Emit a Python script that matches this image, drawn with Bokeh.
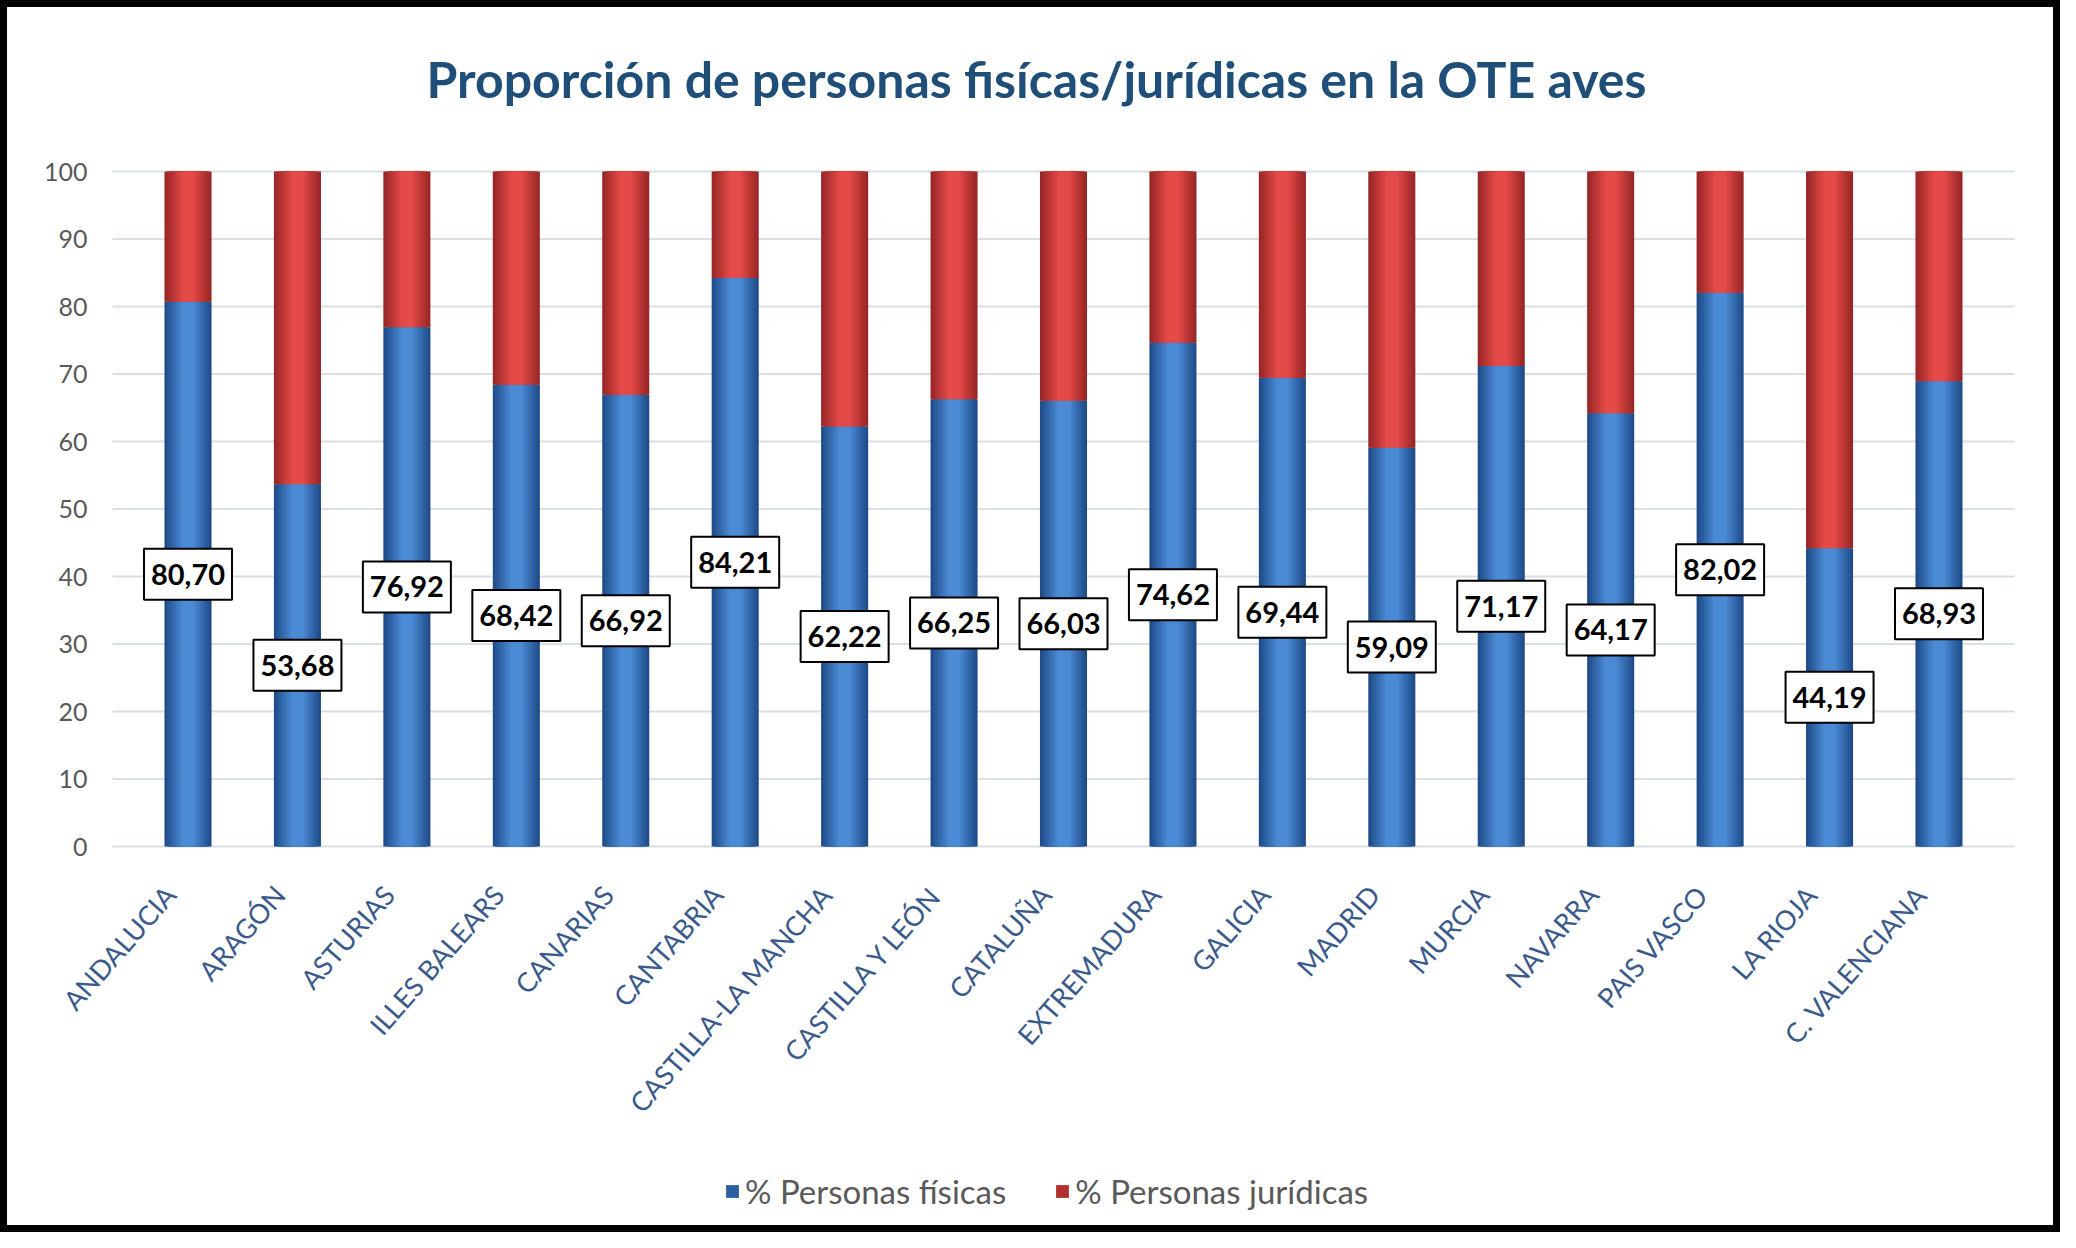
from bokeh.plotting import figure
from bokeh.models import (ColumnDataSource, Range1d, Legend, LegendItem, Label)
from bokeh.core.properties import value
from bokeh.embed import file_html
from bokeh.resources import INLINE

# ---------------- data ----------------
regions = ["ANDALUCIA", "ARAGÓN", "ASTURIAS", "ILLES BALEARS", "CANARIAS", "CANTABRIA",
           "CASTILLA-LA MANCHA", "CASTILLA Y LEÓN", "CATALUÑA", "EXTREMADURA", "GALICIA",
           "MADRID", "MURCIA", "NAVARRA", "PAIS VASCO", "LA RIOJA", "C. VALENCIANA"]
pct_fisicas = [80.70, 53.68, 76.92, 68.42, 66.92, 84.21, 62.22, 66.25, 66.03, 74.62,
               69.44, 59.09, 71.17, 64.17, 82.02, 44.19, 68.93]
pct_juridicas = [19.30, 46.32, 23.08, 31.58, 33.08, 15.79, 37.78, 33.75, 33.97, 25.38,
                 30.56, 40.91, 28.83, 35.83, 17.98, 55.81, 31.07]
y_ticks = [0, 10, 20, 30, 40, 50, 60, 70, 80, 90, 100]
title_text = "Proporción de personas fisícas/jurídicas en la OTE aves"
legend_labels = ["% Personas físicas", "% Personas jurídicas"]

# ---------------- layout (pixels) ----------------
W, H = 2060, 1232
FONT = "Lato"
MB_L, MB_R, MB_T, MB_B = 20, 20, 10, 20
GRID_L, GRID_R = 105, 2007     # canvas columns where the grid lines start / end
Y100_PX, Y0_PX = 164, 839      # canvas rows of the 100 and 0 grid lines
n = len(regions)
PAD = 0.69                     # grid extent beyond first / last category centre
x_px = (GRID_R - GRID_L) / (n - 1 + 2 * PAD)
x_start = -PAD - (GRID_L - MB_L) / x_px
x_end = (n - 1) + PAD + ((W - MB_R) - GRID_R) / x_px
y_px = (Y0_PX - Y100_PX) / 100.0
y_top = 100 + (Y100_PX - MB_T) / y_px
y_bot = -((H - MB_B) - Y0_PX) / y_px

pos = list(range(n))
src = ColumnDataSource(dict(
    x=pos,
    cat=regions,
    f=pct_fisicas,
    top_j=[a + b for a, b in zip(pct_fisicas, pct_juridicas)],
    mid=[a / 2 for a in pct_fisicas],
    zero=[0] * n,
    lbl=[f"{v:.2f}".replace(".", ",") for v in pct_fisicas],
))
grid_src = ColumnDataSource(dict(
    y=y_ticks,
    x0=[-PAD] * len(y_ticks),
    x1=[(n - 1) + PAD] * len(y_ticks),
    t=[str(v) for v in y_ticks],
))

p = figure(width=W, height=H, output_backend="svg", toolbar_location=None,
           x_range=Range1d(x_start, x_end), y_range=Range1d(y_bot, y_top),
           min_border_left=MB_L, min_border_right=MB_R, min_border_top=MB_T,
           min_border_bottom=MB_B)
p.styles = {"border": "7px solid black"}
p.outline_line_color = None
p.background_fill_color = "white"
p.border_fill_color = "white"
p.xaxis.visible = False
p.yaxis.visible = False
p.xgrid.grid_line_color = None
p.ygrid.grid_line_color = None

# horizontal grid lines and value-axis labels
p.segment(x0="x0", x1="x1", y0="y", y1="y", source=grid_src,
          line_color="#dadfe6", line_width=2)
p.text(x="x0", y="y", text="t", source=grid_src, x_offset=-(GRID_L - 80),
       text_align="right", text_baseline="middle", text_font=value(FONT),
       text_font_size="25px", text_color="#595959")


def mix(c1, c2, t):
    a = [int(c1[i:i + 2], 16) for i in (1, 3, 5)]
    b = [int(c2[i:i + 2], 16) for i in (1, 3, 5)]
    return "#" + "".join(f"{round(x + (y - x) * t):02x}" for x, y in zip(a, b))


BW = 0.43
n_layers = 8
blue_edge, blue_mid = "#204d8a", "#4b8bd5"
red_edge, red_mid = "#9a2727", "#e44a47"
blue_rs, red_rs = [], []
for k in range(n_layers):
    t = k / (n_layers - 1)
    wf = 1.0 - k * 0.105
    rb = p.vbar(x="x", top="f", bottom=0, width=BW * wf, source=src,
                fill_color=mix(blue_edge, blue_mid, t), line_color=None)
    rr = p.vbar(x="x", top="top_j", bottom="f", width=BW * wf, source=src,
                fill_color=mix(red_edge, red_mid, t), line_color=None)
    blue_rs.append(rb)
    red_rs.append(rr)

# data labels
p.rect(x="x", y="mid", width=88, height=51, width_units="screen", height_units="screen",
       source=src, fill_color="white", line_color="black", line_width=2)
p.text(x="x", y="mid", text="lbl", source=src, text_font=value(FONT),
       text_font_style="bold", text_font_size="29px", text_align="center",
       text_baseline="middle", text_color="black")

# rotated category labels under the zero line
p.text(x="x", y="zero", text="cat", source=src, angle=0.85,
       x_offset=-18, y_offset=43, text_align="right", text_baseline="middle",
       text_font=value(FONT), text_font_size="27px", text_color="#3a5a8c")

# title
p.add_layout(Label(x=1029 - MB_L, y=(H - MB_B) - 71, x_units="screen", y_units="screen",
                   text=title_text, text_font=FONT, text_font_style="bold",
                   text_font_size="50px", text_color="#1f4e79",
                   text_align="center", text_baseline="middle"))

legend = Legend(items=[LegendItem(label=legend_labels[0], renderers=[blue_rs[2]]),
                       LegendItem(label=legend_labels[1], renderers=[red_rs[2]])],
                orientation="horizontal", location=(717 - MB_L, 8),
                label_text_font=FONT, label_text_font_size="33px",
                label_text_color="#595959", glyph_width=16, glyph_height=16,
                label_standoff=5, spacing=48, padding=0, margin=0,
                background_fill_alpha=0, border_line_color=None)
p.add_layout(legend, "center")

open("out.html", "w").write(file_html(p, INLINE))
